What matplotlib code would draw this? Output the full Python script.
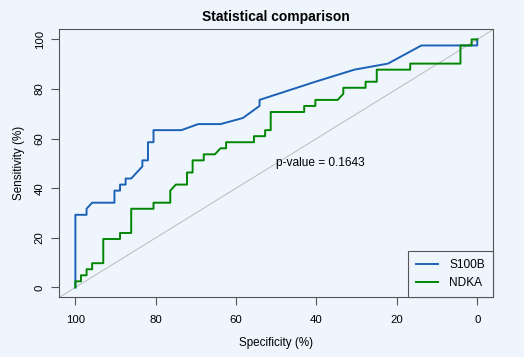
import matplotlib.pyplot as plt

# ROC curve points (specificity %, sensitivity %)
s100b_spec = [100, 100, 97.22, 97.22, 95.83, 90.28, 90.28, 88.89, 88.89, 87.5, 87.5,
              86.11, 83.33, 83.33, 81.94, 81.94, 80.56, 80.56, 73.61, 69.44, 63.89,
              58.33, 54.17, 54.17, 40.28, 30.56, 22.22, 13.89, 0, 0]
s100b_sens = [0, 29.27, 29.27, 31.71, 34.15, 34.15, 39.02, 39.02, 41.46, 41.46, 43.9,
              43.9, 48.78, 51.22, 51.22, 58.54, 58.54, 63.41, 63.41, 65.85, 65.85,
              68.29, 73.17, 75.61, 82.93, 87.8, 90.24, 97.56, 97.56, 100]

ndka_spec = [100, 100, 98.61, 98.61, 97.22, 97.22, 95.83, 95.83, 93.06, 93.06, 88.89,
             88.89, 86.11, 86.11, 80.56, 80.56, 76.39, 76.39, 75, 72.22, 72.22, 70.83,
             70.83, 68.06, 68.06, 65.28, 63.89, 62.5, 62.5, 55.56, 55.56, 52.78, 52.78,
             51.39, 51.39, 43.06, 43.06, 40.28, 40.28, 34.72, 33.33, 33.33, 27.78, 27.78,
             25, 25, 16.67, 16.67, 4.17, 4.17, 1.39, 1.39, 0]
ndka_sens = [0, 2.44, 2.44, 4.88, 4.88, 7.32, 7.32, 9.76, 9.76, 19.51, 19.51,
             21.95, 21.95, 31.71, 31.71, 34.15, 34.15, 39.02, 41.46, 41.46, 46.34, 46.34,
             51.22, 51.22, 53.66, 53.66, 56.1, 56.1, 58.54, 58.54, 60.98, 60.98, 63.41,
             63.41, 70.73, 70.73, 73.17, 73.17, 75.61, 75.61, 78.05, 80.49, 80.49, 82.93,
             82.93, 87.8, 87.8, 90.24, 90.24, 97.56, 97.56, 100, 100]

labels = ['S100B', 'NDKA']
colors = ['#1c61b6', '#008600']
p_value = 0.1643
ticks = [100, 80, 60, 40, 20, 0]

bg = '#EEF5FD'
edge = '#555555'

plt.rcParams['font.family'] = ['Liberation Sans', 'DejaVu Sans']

fig = plt.figure(figsize=(5.24, 3.57), dpi=100, facecolor=bg)
ax = fig.add_axes([0.1132, 0.1672, 0.8282, 0.7502], facecolor=bg)

# diagonal reference line
ax.axline((100, 0), (0, 100), color='#BEBEBE', lw=0.75, zorder=1)

ax.plot(s100b_spec, s100b_sens, color=colors[0], lw=1.4, label=labels[0], zorder=2)
ax.plot(ndka_spec, ndka_sens, color=colors[1], lw=1.4, label=labels[1], zorder=3)

ax.text(50, 50, 'p-value = %.4f' % p_value, ha='left', va='center', fontsize=8.6)

ax.set_xlim(104, -4)
ax.set_ylim(-4, 104)
ax.set_xticks(ticks)
ax.set_yticks(ticks)
ax.tick_params(axis='both', direction='out', length=5.5, width=0.8, color=edge,
               labelsize=8.2, pad=5)
ax.tick_params(axis='x', pad=7.5)
ax.tick_params(axis='y', labelrotation=90)
for lbl in ax.get_yticklabels():
    lbl.set_va('center')

for sp in ax.spines.values():
    sp.set_color(edge)
    sp.set_linewidth(0.8)

ax.set_xlabel('Specificity (%)', fontsize=8.4, labelpad=8.5)
ax.set_ylabel('Sensitivity (%)', fontsize=8.4, labelpad=7)
ax.set_title('Statistical comparison', fontsize=10, fontweight='bold', pad=5.8)

leg = ax.legend(loc='lower right', borderaxespad=0, fancybox=False, framealpha=1,
                facecolor=bg, edgecolor=edge, fontsize=8.6, handlelength=1.85,
                handletextpad=0.9, borderpad=0.7, labelspacing=0.5)
leg.get_frame().set_linewidth(0.8)

fig.savefig('out.png', dpi=100, facecolor=bg)
